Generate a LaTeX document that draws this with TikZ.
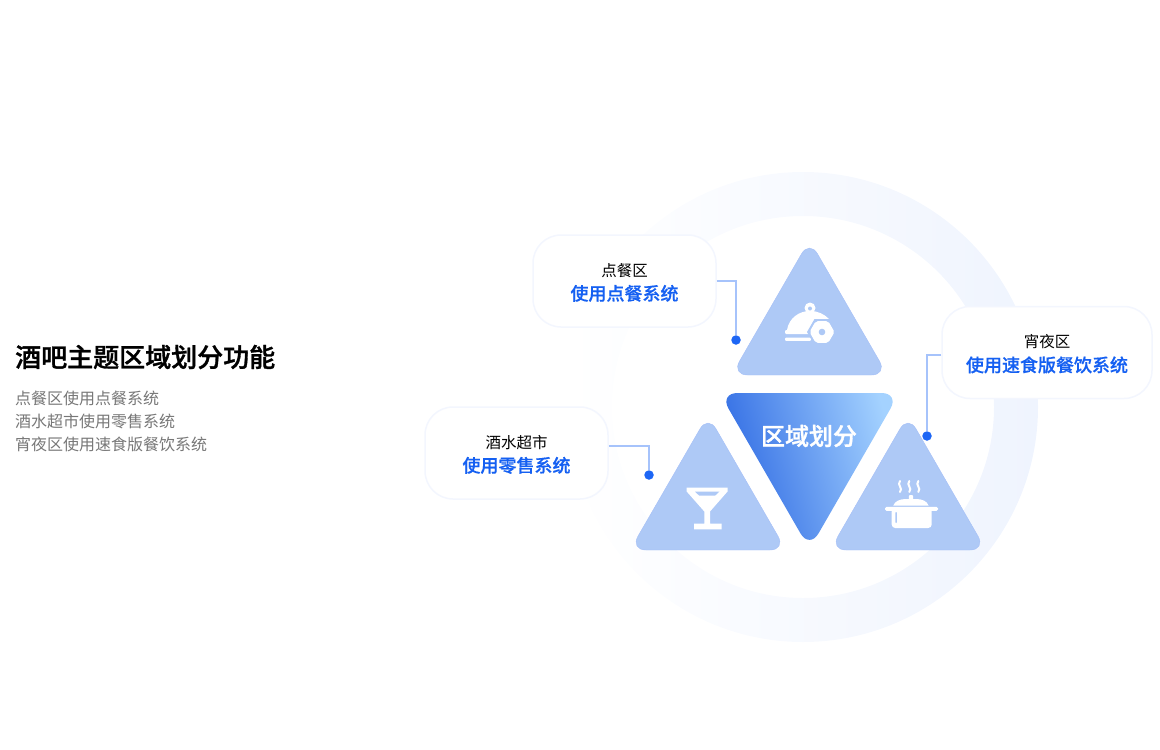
\documentclass[tikz,border=0pt]{standalone}
\usepackage{fontspec}
\setmainfont{Noto Sans CJK SC}
\newfontfamily\midfont{Noto Sans CJK SC}[UprightFont=* Medium, FakeBold=0.5]
\newfontfamily\headfont{Noto Sans CJK SC}[UprightFont=* Medium, FakeBold=1.2]
\usetikzlibrary{positioning}
\definecolor{ringblue}{HTML}{EFF4FE}
\definecolor{ringmid}{HTML}{F7FAFF}
\definecolor{triblue}{HTML}{AEC9F6}
\definecolor{linkblue}{HTML}{A6C3FB}
\definecolor{dotblue}{HTML}{1D66F5}
\definecolor{textblue}{HTML}{1560F2}
\definecolor{boxline}{HTML}{F3F6FE}
\definecolor{graytext}{HTML}{777777}
\definecolor{deepblue}{HTML}{2A66E2}
\definecolor{paleblue}{HTML}{A4D2FF}
\tikzset{
  labelbox/.style={draw=boxline, line width=1.5pt, fill=white, rounded corners=28pt, inner sep=0pt, minimum height=92pt, align=center},
  dotmark/.style={circle, fill=dotblue, inner sep=0pt, minimum size=9.5pt},
  linkline/.style={draw=linkblue, line width=1.2pt},
  tribox/.style={fill=triblue, draw=triblue!95!blue, line width=0.4pt, rounded corners=16pt},
  steamline/.style={draw=white, line width=2pt, line cap=round},
}
\newcommand{\zonelabel}[2]{\rule{0pt}{16pt}{\fontsize{15.5}{25}\selectfont #1}\\[6.5pt]{\fontsize{18}{25}\selectfont\midfont\color{textblue} #2}}
\begin{document}
\begin{tikzpicture}[x=1pt, y=-1pt]
\useasboundingbox (0,0) rectangle (1160,750);
\shade[even odd rule, left color=white, middle color=ringmid, right color=ringblue, shading angle=90] (803,407) circle (235) (803,407) circle (191);
\node[labelbox, minimum width=183pt] (boxa) at (624.5,281) {\zonelabel{点餐区}{使用点餐系统}};
\node[labelbox, minimum width=183pt] (boxb) at (516.5,453) {\zonelabel{酒水超市}{使用零售系统}};
\node[labelbox, minimum width=210pt] (boxc) at (1047,352.5) {\zonelabel{宵夜区}{使用速食版餐饮系统}};
\node[dotmark] (dota) at (736,340) {};
\node[dotmark] (dotb) at (649,475) {};
\node[dotmark] (dotc) at (927,436) {};
\draw[linkline] (boxa.east) -| (dota);
\draw[linkline] ([yshift=7pt]boxb.east) -| (dotb);
\draw[linkline] ([yshift=-2.5pt]boxc.west) -| (dotc);
\fill[tribox] (731.5,375) -- (809.5,240) -- (887.5,375) -- cycle;
\fill[tribox] (630,550) -- (708,415) -- (786,550) -- cycle;
\fill[tribox] (830,550) -- (908,415) -- (986,550) -- cycle;
\shade[rounded corners=18pt, left color=deepblue, right color=paleblue, shading angle=105] (719.5,393) -- (899.5,393) -- (809.5,549) -- cycle;
\node[text=white, font=\fontsize{24}{28}\selectfont\headfont] (centerlabel) at (809,436) {区域划分};
\node[anchor=west, inner sep=0pt, font=\fontsize{26}{30}\selectfont\headfont] (title) at (15,357) {酒吧主题区域划分功能};
\node[anchor=north west, inner sep=0pt, align=left, text=graytext, font=\fontsize{16}{23}\selectfont] (intro) at (15,390.5) {点餐区使用点餐系统\\酒水超市使用零售系统\\宵夜区使用速食版餐饮系统};
% cloche
\fill[white] (787,330) .. controls (789,318) and (799,311) .. (810,311) .. controls (818,311) and (824,314) .. (829,319) -- (812,330) -- cycle;
\fill[white, rounded corners=1pt] (785,330) rectangle (810,334);
\fill[white] (810,308) circle (5.5);
\fill[triblue] (810,308.5) circle (2);
\fill[white, rounded corners=1pt] (785,337.5) rectangle (811,340.8);
\fill[triblue] (807,332) -- (814.5,319) -- (829.5,319) -- (837,332) -- (829.5,345) -- (814.5,345) -- cycle;
\fill[white, rounded corners=2pt] (809.5,332) -- (815.7,321.2) -- (828.3,321.2) -- (834.5,332) -- (828.3,342.8) -- (815.7,342.8) -- cycle;
\fill[triblue] (822,332) circle (3.3);
% glass
\fill[white] (686.7,487.5) -- (727.5,487.5) -- (727.5,491.5) -- (710,511.5) -- (710,523.5) -- (721.7,523.5) -- (721.7,529.3) -- (694,529.3) -- (694,523.5) -- (704.3,523.5) -- (704.3,511.5) -- (686.7,491.5) -- cycle;
\fill[triblue] (695,491.7) -- (719.3,491.7) -- (715,495.7) -- (699.3,495.7) -- cycle;
% pot
\fill[white, rounded corners=3.5pt] (891.7,508) -- (891.7,528) -- (931.7,528) -- (931.7,508) -- cycle;
\fill[white, rounded corners=1.5pt] (885,506.8) rectangle (938,510.8);
\fill[white] (893.3,505.5) .. controls (895,501) and (900,499) .. (906,499) -- (916,499) .. controls (922,499) and (927,501) .. (928.5,505.5) -- cycle;
\fill[white, rounded corners=1pt] (908.8,495) rectangle (913.2,500);
\fill[triblue, rounded corners=0.7pt] (895.3,512) rectangle (896.8,523);
\foreach \steamx in {900,909.3,918.3} {
  \draw[steamline] (\steamx,481) .. controls (\steamx-3.5,485) and (\steamx+3.5,488) .. (\steamx,492);
}
\end{tikzpicture}
\end{document}
